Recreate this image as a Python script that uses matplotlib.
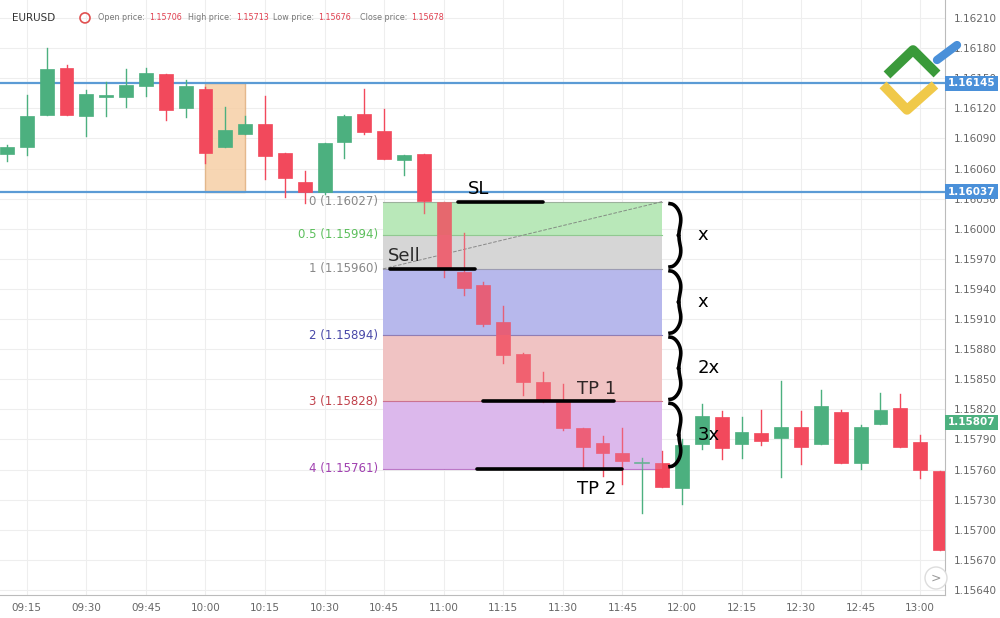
import matplotlib
matplotlib.use("Agg")
import matplotlib.pyplot as plt
import numpy as np
from matplotlib.patches import Rectangle, Circle

times = ["09:10","09:15","09:20","09:25","09:30","09:35","09:40","09:45","09:50","09:55",
         "10:00","10:05","10:10","10:15","10:20","10:25","10:30","10:35","10:40","10:45",
         "10:50","10:55","11:00","11:05","11:10","11:15","11:20","11:25","11:30","11:35",
         "11:40","11:45","11:50","11:55","12:00","12:05","12:10","12:15","12:20","12:25",
         "12:30","12:35","12:40","12:45","12:50","12:55","13:00","13:05"]
opens  = [1.16075,1.16081,1.16113,1.16160,1.16112,1.16131,1.16131,1.16142,1.16154,1.16120,
          1.16139,1.16081,1.16094,1.16104,1.16076,1.16047,1.16037,1.16086,1.16114,1.16097,
          1.16069,1.16075,1.16027,1.15957,1.15944,1.15907,1.15875,1.15847,1.15829,1.15801,
          1.15786,1.15777,1.15767,1.15767,1.15742,1.15785,1.15812,1.15785,1.15796,1.15791,
          1.15802,1.15785,1.15817,1.15767,1.15805,1.15821,1.15787,1.15759]
highs  = [1.16083,1.16133,1.16180,1.16163,1.16138,1.16146,1.16159,1.16160,1.16154,1.16148,
          1.16141,1.16121,1.16112,1.16132,1.16076,1.16058,1.16085,1.16113,1.16139,1.16119,
          1.16074,1.16075,1.16027,1.15996,1.15947,1.15923,1.15876,1.15857,1.15845,1.15801,
          1.15793,1.15801,1.15772,1.15779,1.15790,1.15825,1.15818,1.15812,1.15819,1.15848,
          1.15818,1.15839,1.15819,1.15804,1.15836,1.15835,1.15794,1.15759]
lows   = [1.16068,1.16074,1.16113,1.16113,1.16092,1.16112,1.16121,1.16132,1.16108,1.16111,
          1.16066,1.16081,1.16094,1.16050,1.16032,1.16026,1.16035,1.16071,1.16094,1.16070,
          1.16054,1.16016,1.15952,1.15934,1.15903,1.15866,1.15834,1.15827,1.15799,1.15761,
          1.15754,1.15746,1.15717,1.15743,1.15726,1.15781,1.15771,1.15772,1.15784,1.15753,
          1.15766,1.15785,1.15767,1.15761,1.15805,1.15783,1.15752,1.15680]
closes = [1.16081,1.16112,1.16159,1.16113,1.16134,1.16133,1.16143,1.16155,1.16118,1.16142,
          1.16076,1.16098,1.16104,1.16073,1.16051,1.16037,1.16085,1.16112,1.16096,1.16070,
          1.16074,1.16028,1.15960,1.15941,1.15905,1.15874,1.15847,1.15828,1.15801,1.15783,
          1.15777,1.15769,1.15767,1.15743,1.15784,1.15813,1.15782,1.15797,1.15788,1.15802,
          1.15783,1.15823,1.15767,1.15802,1.15819,1.15783,1.15760,1.15680]

fib_names = ["0", "0.5", "1", "2", "3", "4"]
fib_prices = [1.16027, 1.15994, 1.15960, 1.15894, 1.15828, 1.15761]
fib_fill = ["#b9e8b9", "#d6d6d6", "#b7b8ec", "#f0c3c3", "#dcb8ec"]
fib_text = ["#888888", "#5cbf5c", "#888888", "#4848a8", "#c0404a", "#a040b0"]
h_levels = [1.16145, 1.16037]
last_price = 1.15807
yticks = [1.15640 + 0.0003 * k for k in range(20)]
xtick_labels = ["09:15","09:30","09:45","10:00","10:15","10:30","10:45","11:00","11:15",
                "11:30","11:45","12:00","12:15","12:30","12:45","13:00"]
hdr_labels = ["Open price:", "High price:", "Low price:", "Close price:"]
hdr_values = ["1.15706", "1.15713", "1.15676", "1.15678"]

fig = plt.figure(figsize=(10, 6.18), dpi=100)
ax = fig.add_axes([0, 23/618, 0.945, 595/618])
ax.set_ylim(1.15635, 1.16228)
ax.set_xlim(-0.35, 47.25)
ax.set_facecolor("white")
for s in ["top", "left"]:
    ax.spines[s].set_visible(False)
for s in ["right", "bottom"]:
    ax.spines[s].set_color("#bbbbbb")

ax.yaxis.tick_right()
ax.set_yticks(yticks)
ax.set_yticklabels([f"{v:.5f}" for v in yticks], color="#666666", fontsize=7.5)
xt = [times.index(t) for t in xtick_labels]
ax.set_xticks(xt)
ax.set_xticklabels(xtick_labels, color="#666666", fontsize=7.5)
ax.tick_params(length=0, pad=6)
ax.grid(True, color="#eeeeee", lw=0.8)
ax.set_axisbelow(True)

i10 = times.index("10:00")
ax.add_patch(Rectangle((i10 - 0.02, h_levels[1]), 2.0, h_levels[0] - h_levels[1],
                       facecolor="#f6cfa6", edgecolor="#e0b080", alpha=0.85, zorder=1))

x0, x1 = 18.94, 33.0
for k in range(5):
    ax.add_patch(Rectangle((x0, fib_prices[k + 1]), x1 - x0, fib_prices[k] - fib_prices[k + 1],
                           facecolor=fib_fill[k], edgecolor="none", zorder=1))
for k, (n, p) in enumerate(zip(fib_names, fib_prices)):
    ax.plot([x0, x1], [p, p], color=fib_text[k], lw=0.8, alpha=0.7, zorder=1.5)
    ax.text(x0 - 0.25, p, f"{n} ({p:.5f})", ha="right", va="center", fontsize=8.5, color=fib_text[k])
ax.plot([x0, x1], [fib_prices[2], fib_prices[0]], ls="--", color="#777777", lw=0.7, zorder=1.5)

for p in h_levels:
    ax.axhline(p, color="#5b9bd5", lw=1.6, zorder=2)

for i in range(len(opens)):
    o, h, l, c = opens[i], highs[i], lows[i], closes[i]
    col = "#4cb07f" if c >= o else "#f2495c"
    ax.plot([i, i], [l, h], color=col, lw=1, zorder=3)
    lo, hi = min(o, c), max(o, c)
    if hi - lo < 0.000012:
        ax.plot([i - 0.35, i + 0.35], [o, o], color=col, lw=1.2, zorder=3)
    else:
        ax.add_patch(Rectangle((i - 0.35, lo), 0.7, hi - lo, facecolor=col, edgecolor=col, lw=0.5, zorder=3))
for k in range(5):
    ax.add_patch(Rectangle((x0, fib_prices[k + 1]), x1 - x0, fib_prices[k] - fib_prices[k + 1],
                           facecolor=fib_fill[k], edgecolor="none", alpha=0.2, zorder=3.5))

kw = dict(color="black", lw=2.6, zorder=5, solid_capstyle="round")
ax.plot([22.7, 27.0], [fib_prices[0]] * 2, **kw)
ax.text(23.2, fib_prices[0] + 0.00004, "SL", fontsize=13, va="bottom")
ax.plot([19.3, 23.6], [fib_prices[2]] * 2, **kw)
ax.text(19.2, fib_prices[2] + 0.00004, "Sell", fontsize=13, va="bottom")
ax.plot([24.0, 30.6], [fib_prices[4]] * 2, **kw)
ax.text(28.7, fib_prices[4] + 0.00003, "TP 1", fontsize=13, va="bottom")
ax.plot([23.7, 31.0], [fib_prices[5]] * 2, **kw)
ax.text(28.7, fib_prices[5] - 0.00011, "TP 2", fontsize=13, va="top")

def brace(xl, ytop, ybot, width):
    t = np.linspace(0, 1, 200)
    ys = ytop + (ybot - ytop) * t
    u = np.abs(t - 0.5) * 2
    xs = xl + width * (0.6 * np.sin(np.pi * u) ** 0.5 + 0.4 * (1 - u) ** 8)
    ax.plot(xs, ys, color="black", lw=2.6, zorder=6)

braces = [(fib_prices[0], fib_prices[2], "x"), (fib_prices[2], fib_prices[3], "x"),
          (fib_prices[3], fib_prices[4], "2x"), (fib_prices[4], fib_prices[5], "3x")]
for ytop, ybot, lab in braces:
    brace(33.4, ytop - 0.00002, ybot + 0.00002, 0.9)
    ax.text(34.8, (ytop + ybot) / 2, lab, fontsize=13, va="center")

def tag(p, col):
    ax.text(1.003, p, f"{p:.5f}", transform=ax.get_yaxis_transform(), ha="left", va="center",
            fontsize=7.5, color="white", fontweight="bold",
            bbox=dict(boxstyle="square,pad=0.25", facecolor=col, edgecolor="none"), zorder=10, clip_on=False)
for p in h_levels:
    tag(p, "#4a90d9")
tag(last_price, "#4cb07f")

fig.text(0.012, 0.971, "EURUSD", fontsize=7.5, color="#333333", va="center")
fig.patches.append(Circle((85, 0.971 * 618), 5, transform=None, fill=False,
                          edgecolor="#e05050", lw=1.2))
hx = [0.098, 0.188, 0.273, 0.360]
for lab, val, xx in zip(hdr_labels, hdr_values, hx):
    t = fig.text(xx, 0.971, lab, fontsize=5.8, color="#777777", va="center")
    fig.text(0, 0, "")
    ann = plt.annotate(val, xy=(1, 0.5), xycoords=t, xytext=(3, 0), textcoords="offset points",
                       fontsize=5.8, color="#e04050", va="center", annotation_clip=False)

L = fig.add_axes([0.875, 0.79, 0.09, 0.15])
L.set_xlim(0, 90); L.set_ylim(0, 93); L.axis("off")
L.plot([12, 38, 62], [55, 80, 56], color="#3a9a3a", lw=7, solid_capstyle="butt")
L.plot([8, 32, 60], [45, 20, 45], color="#f0c94a", lw=7, solid_capstyle="butt")
L.plot([62, 82], [70, 85], color="#4a90d9", lw=6, solid_capstyle="round")

fig.patches.append(Circle((936, 618 - 578), 11, transform=None, facecolor="white",
                          edgecolor="#dddddd", lw=1))
fig.text(0.936, 1 - 578 / 618, ">", ha="center", va="center", fontsize=9, color="#999999")

fig.savefig("out.png", dpi=100)
